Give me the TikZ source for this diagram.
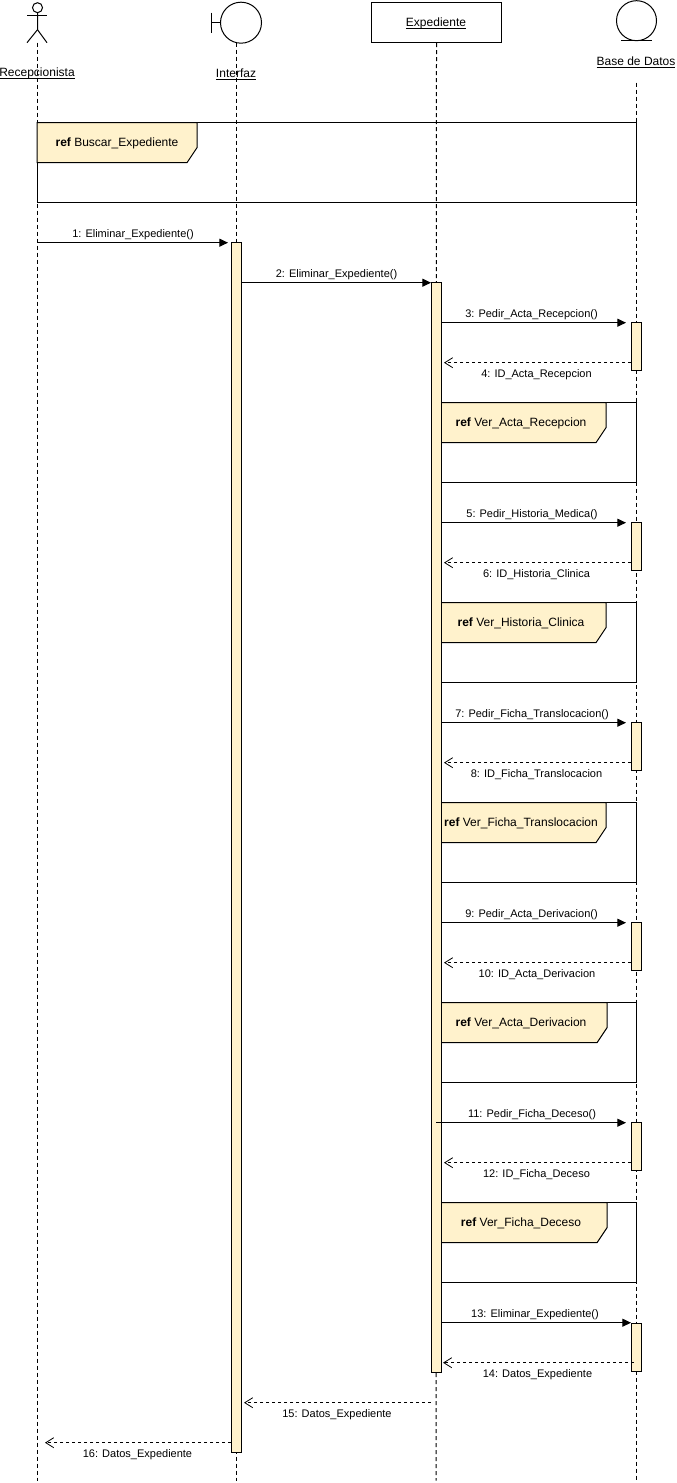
\documentclass[tikz,border=0pt]{standalone}
\usepackage{fontspec}
\setmainfont{Liberation Sans}
\usepackage{tikz}
\usetikzlibrary{arrows.meta}
\definecolor{tagfill}{HTML}{FFF2CC}
\newcommand{\objname}[1]{\underline{\smash{#1}}}
\tikzset{
    lifeline/.style={dashed, dash pattern=on 3pt off 2.25pt},
    msg/.style={-{Triangle[length=6.5pt,width=6pt]}},
    retmsg/.style={dashed, dash pattern=on 2.25pt off 2.25pt, -{Straight Barb[length=6pt,width=7.5pt,line width=.6pt]}},
    msglabel/.style={font=\fontsize{8.25}{10}\selectfont, inner sep=0pt},
    reflabel/.style={font=\fontsize{9}{11}\selectfont, inner sep=0pt},
    objlabel/.style={font=\fontsize{9}{11}\selectfont, inner sep=0pt, anchor=base},
    reftag/.style={draw, fill=tagfill},
    activation/.style={draw, fill=tagfill, anchor=north, minimum width=7.5pt, inner sep=0pt},
}
\begin{document}
\begin{tikzpicture}[x=.75pt, y=-.75pt, line width=.75pt]
        \useasboundingbox (0,-.7) rectangle (676,1482.3);
        % objects
        \node[draw, circle, minimum size=7.5pt, inner sep=0pt] (head) at (37.5,7) {};
        \draw (27,15) -- (47,15);
        \draw (head.south) -- (37.5,29) -- (27,42);
        \draw (37.5,29) -- (47,42);
        \coordinate (recepcionista) at (37,42);
        \node[objlabel] (recepcionistaText) at (37,76) {\objname{Recepcionista}};
        \node[draw, circle, minimum size=30.75pt, inner sep=0pt] (interfazCircle) at (241,22) {};
        \draw (211,12) -- (211,32);
        \draw (211,22) -- (interfazCircle.west);
        \coordinate (interfaz) at (236,42);
        \node[objlabel] (interfazText) at (236,77) {\objname{Interfaz}};
        \node[draw, minimum width=98pt, minimum height=30pt, inner sep=0pt] (expediente) at (436.5,22) {};
        \node[objlabel] (expedienteText) at (436,26) {\objname{Expediente}};
        \node[draw, circle, minimum size=30pt, inner sep=0pt] (baseCircle) at (636.5,20) {};
        \draw (621,40) -- (652,40);
        \coordinate (base) at (636,82);
        \node[objlabel] (baseText) at (636,65) {\objname{Base de Datos}};
        % lifelines
        \coordinate (recepcionistaEnd) at (37,1480);
        \coordinate (interfazEnd) at (236,1480);
        \coordinate (expedienteEnd) at (436,1480);
        \coordinate (baseEnd) at (636,1480);
        \draw[lifeline] (recepcionista) -- (recepcionistaEnd);
        \draw[lifeline] (interfaz) -- (interfazEnd);
        \draw[lifeline] (expediente.south) -- (expedienteEnd);
        \draw[lifeline] (base) -- (baseEnd);
        % ref frames
        \draw (37,122) rectangle (636.5,202);
        \draw[reftag] (37,122) -- (197,122) -- (197,147) -- (187,162) -- (37,162) -- cycle;
        \node[reflabel] (refBuscar) at (117,142.3) {\textbf{ref} Buscar\_Expediente};
        \draw (441,402) rectangle (636.5,482);
        \draw[reftag] (441,402) -- (606,402) -- (606,427) -- (596,442) -- (441,442) -- cycle;
        \node[reflabel] (refRecepcion) at (521,422.3) {\textbf{ref} Ver\_Acta\_Recepcion};
        \draw (441,602) rectangle (636.5,682);
        \draw[reftag] (441,602) -- (606,602) -- (606,627) -- (596,642) -- (441,642) -- cycle;
        \node[reflabel] (refHistoria) at (521,622.3) {\textbf{ref} Ver\_Historia\_Clinica};
        \draw (441,802) rectangle (636.5,882);
        \draw[reftag] (441,802) -- (606,802) -- (606,827) -- (596,842) -- (441,842) -- cycle;
        \node[reflabel] (refFicha) at (521,822.3) {\textbf{ref} Ver\_Ficha\_Translocacion};
        \draw (441,1002) rectangle (636.5,1082);
        \draw[reftag] (441,1002) -- (607,1002) -- (607,1027) -- (597,1042) -- (441,1042) -- cycle;
        \node[reflabel] (refDerivacion) at (521,1022.3) {\textbf{ref} Ver\_Acta\_Derivacion};
        \draw (441,1202) rectangle (636.5,1282);
        \draw[reftag] (441,1202) -- (607,1202) -- (607,1227) -- (597,1242) -- (441,1242) -- cycle;
        \node[reflabel] (refDeceso) at (521,1222.3) {\textbf{ref} Ver\_Ficha\_Deceso};
        % activations
        \node[activation, minimum height=907.5pt] (acInterfaz) at (236,241.6) {};
        \node[activation, minimum height=817.5pt] (acExpediente) at (436,281.6) {};
        \node[activation, minimum height=36pt] (acBase1) at (636,321.6) {};
        \node[activation, minimum height=36pt] (acBase2) at (636,521.6) {};
        \node[activation, minimum height=36pt] (acBase3) at (636,721.6) {};
        \node[activation, minimum height=36pt] (acBase4) at (636,921.6) {};
        \node[activation, minimum height=36pt] (acBase5) at (636,1121.6) {};
        \node[activation, minimum height=36pt] (acBase6) at (636,1322.6) {};
        % messages
        \coordinate (m1a) at (37,242);
        \coordinate (m1b) at (228,242);
        \draw[msg] (m1a) -- (m1b);
        \node[msglabel] (m1) at (133,234) {1: Eliminar\_Expediente()};
        \coordinate (m2b) at (431,282);
        \draw[msg] (acInterfaz.east |- m2b) -- (m2b);
        \node[msglabel] (m2) at (336.5,274) {2: Eliminar\_Expediente()};
        \coordinate (m3b) at (626,322);
        \coordinate (m4a) at (631,362);
        \coordinate (m4b) at (444,362);
        \draw[msg] (acExpediente.east |- m3b) -- (m3b);
        \draw[retmsg] (m4a) -- (m4b);
        \node[msglabel] (m3) at (531.5,314) {3: Pedir\_Acta\_Recepcion()};
        \node[msglabel] (m4) at (536.5,374) {4: ID\_Acta\_Recepcion};
        \coordinate (m5b) at (626,522);
        \coordinate (m6a) at (631,562);
        \coordinate (m6b) at (444,562);
        \draw[msg] (acExpediente.east |- m5b) -- (m5b);
        \draw[retmsg] (m6a) -- (m6b);
        \node[msglabel] (m5) at (532,514) {5: Pedir\_Historia\_Medica()};
        \node[msglabel] (m6) at (536.5,574) {6: ID\_Historia\_Clinica};
        \coordinate (m7b) at (626,722);
        \coordinate (m8a) at (631,762);
        \coordinate (m8b) at (444,762);
        \draw[msg] (acExpediente.east |- m7b) -- (m7b);
        \draw[retmsg] (m8a) -- (m8b);
        \node[msglabel] (m7) at (532,714) {7: Pedir\_Ficha\_Translocacion()};
        \node[msglabel] (m8) at (536.5,774) {8: ID\_Ficha\_Translocacion};
        \coordinate (m9b) at (626,922);
        \coordinate (m10a) at (631,962);
        \coordinate (m10b) at (444,962);
        \draw[msg] (acExpediente.east |- m9b) -- (m9b);
        \draw[retmsg] (m10a) -- (m10b);
        \node[msglabel] (m9) at (531.5,914) {9: Pedir\_Acta\_Derivacion()};
        \node[msglabel] (m10) at (537,974) {10: ID\_Acta\_Derivacion};
        \coordinate (m11a) at (436,1122);
        \coordinate (m11b) at (626,1122);
        \coordinate (m12a) at (631,1162);
        \coordinate (m12b) at (444,1162);
        \draw[msg] (m11a) -- (m11b);
        \draw[retmsg] (m12a) -- (m12b);
        \node[msglabel] (m11) at (532,1114) {11: Pedir\_Ficha\_Deceso()};
        \node[msglabel] (m12) at (536.5,1174) {12: ID\_Ficha\_Deceso};
        \coordinate (m13) at (631,1322);
        \coordinate (m14a) at (634,1362);
        \coordinate (m14b) at (443,1362);
        \draw[msg] (acExpediente.east |- m13) -- (m13);
        \draw[retmsg] (m14a) -- (m14b);
        \node[msglabel] (m13Text) at (535,1314) {13: Eliminar\_Expediente()};
        \node[msglabel] (m14) at (537.5,1374) {14: Datos\_Expediente};
        \coordinate (m15a) at (431,1402);
        \coordinate (m15b) at (244,1402);
        \draw[retmsg] (m15a) -- (m15b);
        \node[msglabel] (m15) at (337,1414) {15: Datos\_Expediente};
        \coordinate (m16a) at (231,1442);
        \coordinate (m16b) at (45,1442);
        \draw[retmsg] (m16a) -- (m16b);
        \node[msglabel] (m16) at (137.5,1454) {16: Datos\_Expediente};
    \end{tikzpicture}
\end{document}
